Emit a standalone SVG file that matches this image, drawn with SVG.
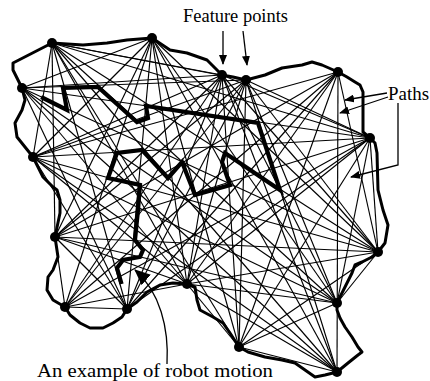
<svg xmlns="http://www.w3.org/2000/svg" width="430" height="381" viewBox="0 0 430 381">
<style>
.bg{fill:#fff}
.edge{stroke:#000;stroke-width:1.15;fill:none}
.wall{stroke:#000;stroke-width:3;fill:none;stroke-linejoin:round;stroke-linecap:round}
.robot{stroke:#000;stroke-width:4.2;fill:none;stroke-linejoin:miter;stroke-linecap:square}
.pt{fill:#000}
.lead{stroke:#000;stroke-width:1.3;fill:none}
.lbl{font-family:"Liberation Serif","Times New Roman",serif;font-size:18px;fill:#000}
</style>
<defs>
<marker id="ah" markerUnits="userSpaceOnUse" markerWidth="10" markerHeight="8" refX="9" refY="4" orient="auto">
<path d="M0,0 L10,4 L0,8 z" fill="#000"/>
</marker>
<marker id="ahb" markerUnits="userSpaceOnUse" markerWidth="16" markerHeight="14" refX="15" refY="7" orient="auto">
<path d="M0,0 L16,7 L0,14 z" fill="#000"/>
</marker>
</defs>
<rect class="bg" x="0" y="0" width="430" height="381"/>
<g id="connectors">
<line class="edge" x1="52" y1="43" x2="222" y2="75"/>
<line class="edge" x1="52" y1="43" x2="246" y2="80"/>
<line class="edge" x1="52" y1="43" x2="33" y2="157"/>
<line class="edge" x1="52" y1="43" x2="370" y2="138"/>
<line class="edge" x1="52" y1="43" x2="55" y2="237"/>
<line class="edge" x1="52" y1="43" x2="378" y2="252"/>
<line class="edge" x1="52" y1="43" x2="187" y2="284"/>
<line class="edge" x1="52" y1="43" x2="337" y2="303"/>
<line class="edge" x1="52" y1="43" x2="127" y2="309"/>
<line class="edge" x1="52" y1="43" x2="239" y2="347"/>
<line class="edge" x1="52" y1="43" x2="337" y2="372"/>
<line class="edge" x1="152" y1="38" x2="22" y2="88"/>
<line class="edge" x1="152" y1="38" x2="33" y2="157"/>
<line class="edge" x1="152" y1="38" x2="55" y2="237"/>
<line class="edge" x1="152" y1="38" x2="378" y2="252"/>
<line class="edge" x1="152" y1="38" x2="187" y2="284"/>
<line class="edge" x1="152" y1="38" x2="337" y2="303"/>
<line class="edge" x1="152" y1="38" x2="65" y2="307"/>
<line class="edge" x1="152" y1="38" x2="127" y2="309"/>
<line class="edge" x1="152" y1="38" x2="239" y2="347"/>
<line class="edge" x1="152" y1="38" x2="337" y2="372"/>
<line class="edge" x1="222" y1="75" x2="22" y2="88"/>
<line class="edge" x1="222" y1="75" x2="33" y2="157"/>
<line class="edge" x1="222" y1="75" x2="370" y2="138"/>
<line class="edge" x1="222" y1="75" x2="55" y2="237"/>
<line class="edge" x1="222" y1="75" x2="378" y2="252"/>
<line class="edge" x1="222" y1="75" x2="187" y2="284"/>
<line class="edge" x1="222" y1="75" x2="337" y2="303"/>
<line class="edge" x1="222" y1="75" x2="65" y2="307"/>
<line class="edge" x1="222" y1="75" x2="127" y2="309"/>
<line class="edge" x1="222" y1="75" x2="239" y2="347"/>
<line class="edge" x1="222" y1="75" x2="337" y2="372"/>
<line class="edge" x1="246" y1="80" x2="22" y2="88"/>
<line class="edge" x1="246" y1="80" x2="33" y2="157"/>
<line class="edge" x1="246" y1="80" x2="370" y2="138"/>
<line class="edge" x1="246" y1="80" x2="55" y2="237"/>
<line class="edge" x1="246" y1="80" x2="378" y2="252"/>
<line class="edge" x1="246" y1="80" x2="187" y2="284"/>
<line class="edge" x1="246" y1="80" x2="337" y2="303"/>
<line class="edge" x1="246" y1="80" x2="65" y2="307"/>
<line class="edge" x1="246" y1="80" x2="127" y2="309"/>
<line class="edge" x1="246" y1="80" x2="239" y2="347"/>
<line class="edge" x1="246" y1="80" x2="337" y2="372"/>
<line class="edge" x1="338" y1="72" x2="33" y2="157"/>
<line class="edge" x1="338" y1="72" x2="55" y2="237"/>
<line class="edge" x1="338" y1="72" x2="378" y2="252"/>
<line class="edge" x1="338" y1="72" x2="187" y2="284"/>
<line class="edge" x1="338" y1="72" x2="65" y2="307"/>
<line class="edge" x1="338" y1="72" x2="127" y2="309"/>
<line class="edge" x1="338" y1="72" x2="239" y2="347"/>
<line class="edge" x1="338" y1="72" x2="337" y2="372"/>
<line class="edge" x1="22" y1="88" x2="370" y2="138"/>
<line class="edge" x1="22" y1="88" x2="378" y2="252"/>
<line class="edge" x1="22" y1="88" x2="187" y2="284"/>
<line class="edge" x1="22" y1="88" x2="337" y2="303"/>
<line class="edge" x1="22" y1="88" x2="127" y2="309"/>
<line class="edge" x1="22" y1="88" x2="337" y2="372"/>
<line class="edge" x1="33" y1="157" x2="370" y2="138"/>
<line class="edge" x1="33" y1="157" x2="378" y2="252"/>
<line class="edge" x1="33" y1="157" x2="187" y2="284"/>
<line class="edge" x1="33" y1="157" x2="337" y2="303"/>
<line class="edge" x1="33" y1="157" x2="127" y2="309"/>
<line class="edge" x1="33" y1="157" x2="337" y2="372"/>
<line class="edge" x1="370" y1="138" x2="55" y2="237"/>
<line class="edge" x1="370" y1="138" x2="378" y2="252"/>
<line class="edge" x1="370" y1="138" x2="187" y2="284"/>
<line class="edge" x1="370" y1="138" x2="337" y2="303"/>
<line class="edge" x1="370" y1="138" x2="65" y2="307"/>
<line class="edge" x1="370" y1="138" x2="127" y2="309"/>
<line class="edge" x1="370" y1="138" x2="239" y2="347"/>
<line class="edge" x1="55" y1="237" x2="378" y2="252"/>
<line class="edge" x1="55" y1="237" x2="187" y2="284"/>
<line class="edge" x1="55" y1="237" x2="337" y2="303"/>
<line class="edge" x1="55" y1="237" x2="65" y2="307"/>
<line class="edge" x1="55" y1="237" x2="127" y2="309"/>
<line class="edge" x1="378" y1="252" x2="187" y2="284"/>
<line class="edge" x1="378" y1="252" x2="337" y2="303"/>
<line class="edge" x1="378" y1="252" x2="239" y2="347"/>
<line class="edge" x1="187" y1="284" x2="337" y2="303"/>
<line class="edge" x1="187" y1="284" x2="65" y2="307"/>
<line class="edge" x1="187" y1="284" x2="239" y2="347"/>
<line class="edge" x1="187" y1="284" x2="337" y2="372"/>
<line class="edge" x1="337" y1="303" x2="239" y2="347"/>
<line class="edge" x1="65" y1="307" x2="127" y2="309"/>
<line class="edge" x1="239" y1="347" x2="337" y2="372"/>
</g>
<g id="boundary">
<path class="wall" d="M52,43 L83,45 L107,43 L127,40 L152,38 L170,50 L187,53 L207,60 L222,75 L233,77 L246,80 L265,75 L282,68 L302,65 L312,62 L322,65 L338,72 L347,77 L355,82 L360,85 L363,92 L363,132 L370,138 L375,143 L377,153 L378,190 L383,210 L388,225 L385,243 L378,252 L372,257 L362,262 L355,265 L352,273 L347,283 L342,293 L337,303 L337,310 L340,318 L345,327 L352,337 L358,347 L362,352 L358,355 L348,363 L337,372 L325,375 L315,377 L305,370 L295,363 L282,360 L265,357 L248,352 L239,347 L230,333 L223,323 L213,317 L200,310 L197,300 L195,287 L187,284 L173,283 L160,285 L147,292 L137,302 L127,309 L122,317 L113,323 L103,328 L90,328 L80,323 L70,315 L65,307 L53,300 L47,290 L48,277 L53,270 L58,257 L55,237 L60,213 L60,200 L57,190 L53,187 L43,177 L33,157 L25,147 L17,137 L15,123 L22,110 L25,100 L22,88 L18,80 L13,70 L13,63 Z"/>
</g>
<g id="robot-path">
<path class="robot" d="M43,98 L67,110 L63,88 L98,87 L137,122 L148,118 L146,106 L258,123 L280,190 L225,153 L222,162 L230,185 L195,195 L182,162 L168,178 L142,150 L117,153 L108,178 L140,185 L138,210 L135,240 L143,250 L140,257 L123,260 L117,268 L121,282"/>
</g>
<g id="feature-points">
<circle id="A" class="pt" cx="52" cy="43" r="5"/>
<circle id="B" class="pt" cx="152" cy="38" r="5"/>
<circle id="C" class="pt" cx="222" cy="75" r="5"/>
<circle id="D" class="pt" cx="246" cy="80" r="5"/>
<circle id="E" class="pt" cx="338" cy="72" r="5"/>
<circle id="F" class="pt" cx="22" cy="88" r="5"/>
<circle id="G" class="pt" cx="33" cy="157" r="5"/>
<circle id="H" class="pt" cx="370" cy="138" r="5"/>
<circle id="I" class="pt" cx="55" cy="237" r="5"/>
<circle id="J" class="pt" cx="378" cy="252" r="5"/>
<circle id="K" class="pt" cx="187" cy="284" r="5"/>
<circle id="L" class="pt" cx="337" cy="303" r="5"/>
<circle id="M" class="pt" cx="65" cy="307" r="5"/>
<circle id="N" class="pt" cx="127" cy="309" r="5"/>
<circle id="O" class="pt" cx="239" cy="347" r="5"/>
<circle id="P" class="pt" cx="337" cy="372" r="5"/>
</g>
<g id="label-feature-points">
<text class="lbl" x="183" y="22" textLength="105" lengthAdjust="spacingAndGlyphs">Feature points</text>
<line class="lead" x1="223" y1="31" x2="223" y2="64" marker-end="url(#ah)"/>
<line class="lead" x1="243" y1="31" x2="247" y2="65" marker-end="url(#ah)"/>
</g>
<g id="label-paths">
<text class="lbl" x="388" y="100" textLength="41" lengthAdjust="spacingAndGlyphs">Paths</text>
<polyline class="lead" points="387,93 345,100" marker-end="url(#ah)"/>
<polyline class="lead" points="388,97 340,113" marker-end="url(#ah)"/>
<polyline class="lead" points="398,103 398,165 351,177" marker-end="url(#ah)"/>
</g>
<g id="label-robot-motion">
<text class="lbl" x="37" y="377" style="font-size:19px" textLength="236" lengthAdjust="spacingAndGlyphs">An example of robot motion</text>
<path class="lead" d="M167,364 C169,328 160,292 135,270" marker-end="url(#ahb)"/>
</g>
</svg>
